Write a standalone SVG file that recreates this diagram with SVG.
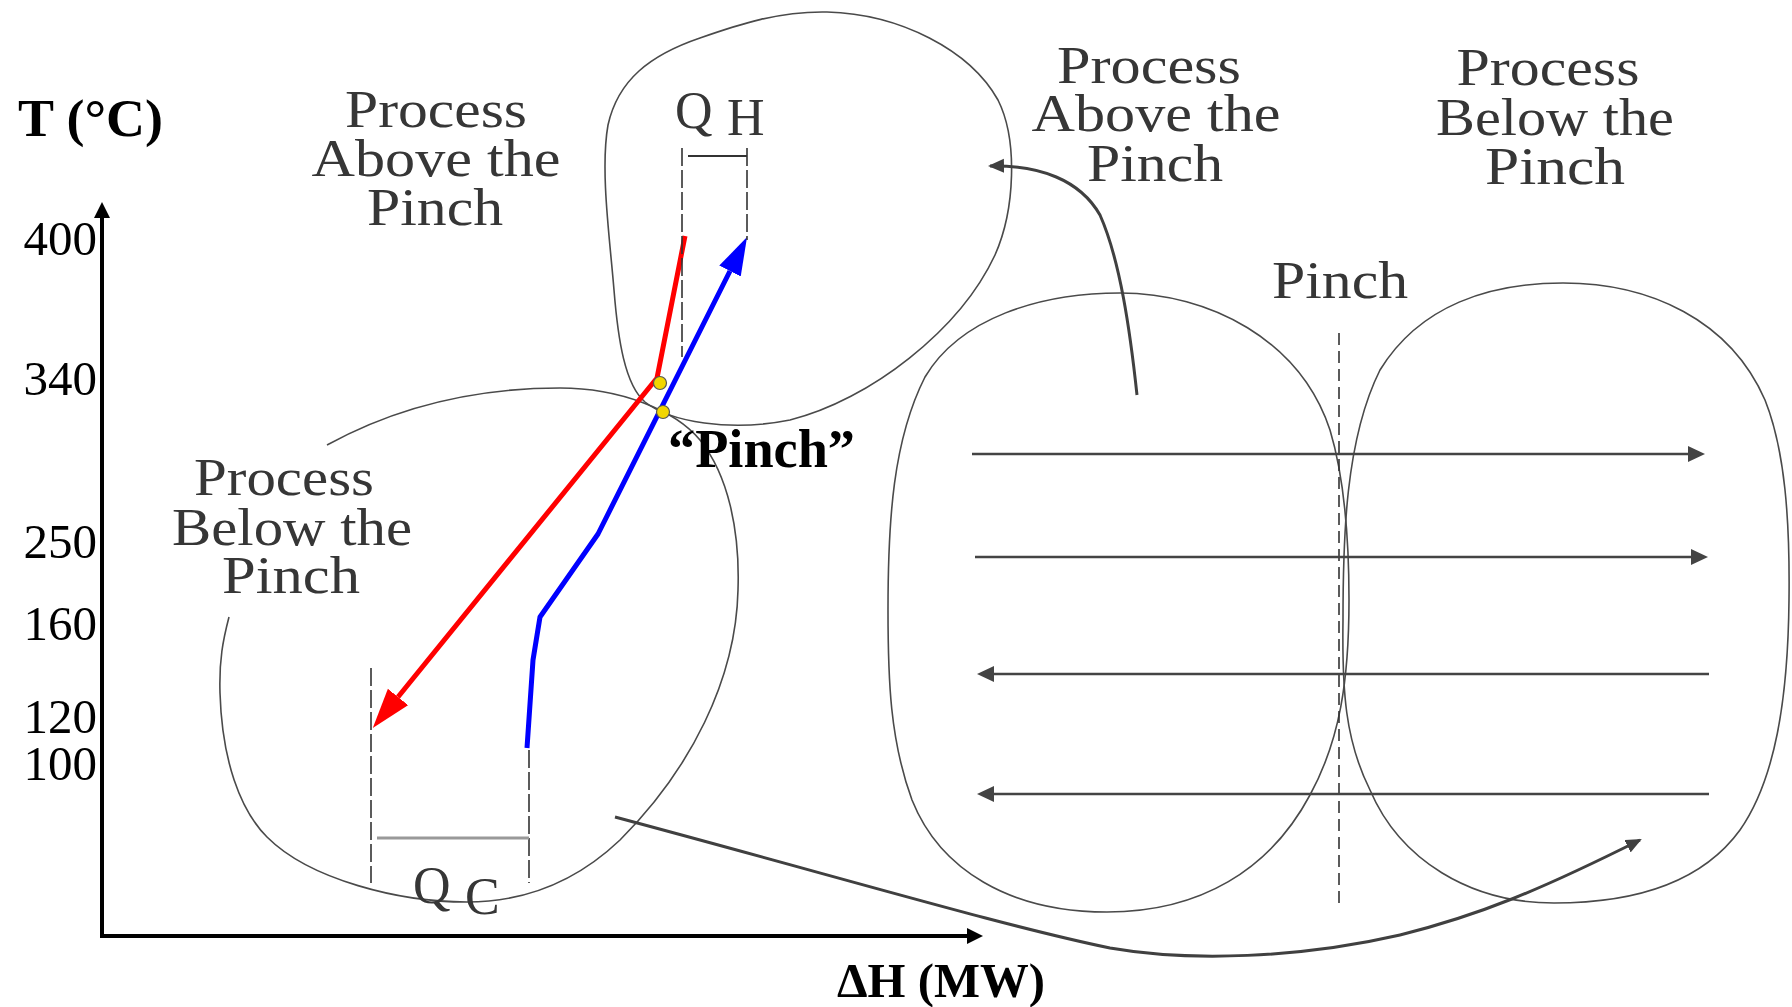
<svg xmlns="http://www.w3.org/2000/svg" width="1792" height="1007" viewBox="0 0 1792 1007">
<style>
.blob{fill:none;stroke:#4a4a4a;stroke-width:1.6}
.lbl{font-family:"Liberation Serif","Times New Roman",serif;font-size:52px;fill:#363636}
.num{font-family:"Liberation Serif","Times New Roman",serif;font-size:49px;fill:#000}
.bold{font-family:"Liberation Serif","Times New Roman",serif;font-weight:bold;fill:#000}
.dash{fill:none;stroke:#333;stroke-width:1.6;stroke-dasharray:18 4}
.flow{fill:none;stroke:#444;stroke-width:2.6}
.curve{fill:none;stroke:#404040;stroke-width:3}
.axis{fill:none;stroke:#000;stroke-width:4}
</style>
<defs>
<marker id="axArr" markerUnits="userSpaceOnUse" markerWidth="18" markerHeight="18" refX="0" refY="8" orient="auto"><path d="M0,0 L16,8 L0,16 Z" fill="#000"/></marker>
<marker id="grArr" markerUnits="userSpaceOnUse" markerWidth="18" markerHeight="18" refX="0" refY="8" orient="auto"><path d="M0,0 L17,8 L0,16 Z" fill="#444"/></marker>
<marker id="cvArr" markerUnits="userSpaceOnUse" markerWidth="18" markerHeight="16" refX="14" refY="7" orient="auto"><path d="M0,0 L16,7 L0,14 Z" fill="#404040"/></marker>
<marker id="redArr" markerUnits="userSpaceOnUse" markerWidth="42" markerHeight="28" refX="0" refY="13" orient="auto"><path d="M0,0 L40,13 L0,26 Z" fill="#ff0000"/></marker>
<marker id="blueArr" markerUnits="userSpaceOnUse" markerWidth="40" markerHeight="26" refX="0" refY="12" orient="auto"><path d="M0,0 L38,12 L0,24 Z" fill="#0000ff"/></marker>
</defs>
<rect width="1792" height="1007" fill="#fff"/>

<g id="axes">
<path class="axis" d="M102,938 V218" marker-end="url(#axArr)"/>
<path class="axis" d="M100,936 H967" marker-end="url(#axArr)"/>
<text class="bold" x="18" y="136" font-size="53" textLength="145" lengthAdjust="spacingAndGlyphs">T (°C)</text>
<text class="bold" x="837" y="997" font-size="49" textLength="208" lengthAdjust="spacingAndGlyphs">ΔH (MW)</text>
<g text-anchor="end">
<text class="num" x="97" y="255">400</text>
<text class="num" x="97" y="395">340</text>
<text class="num" x="97" y="558">250</text>
<text class="num" x="97" y="640">160</text>
<text class="num" x="97" y="733">120</text>
<text class="num" x="97" y="780">100</text>
</g>
</g>

<g id="region-above-left">
<path class="blob" d="M827,12 C900,14 970,50 998,100 C1018,140 1015,210 995,255 C960,330 870,400 790,420 C730,432 670,422 645,402 C625,385 618,340 614,290 C610,240 600,170 608,125 C618,80 650,55 700,38 C740,24 780,11 827,12 Z"/>
</g>
<g id="label-above-left" class="lbl" text-anchor="middle">
<text x="436" y="127" textLength="182" lengthAdjust="spacingAndGlyphs">Process</text>
<text x="436" y="176" textLength="249" lengthAdjust="spacingAndGlyphs">Above the</text>
<text x="435" y="225" textLength="136" lengthAdjust="spacingAndGlyphs">Pinch</text>
</g>

<g id="region-below-left">
<path class="blob" d="M327,445 C400,405 480,388 560,388 C620,388 675,410 700,440 C728,475 740,530 738,590 C736,680 690,770 620,840 C580,878 530,902 467,902 C400,902 310,880 267,837 C240,810 222,760 220,693 C219,660 223,640 229,617"/>
</g>
<g id="label-below-left" class="lbl" text-anchor="middle">
<text x="284" y="495" textLength="180" lengthAdjust="spacingAndGlyphs">Process</text>
<text x="292" y="545" textLength="240" lengthAdjust="spacingAndGlyphs">Below the</text>
<text x="291" y="593" textLength="138" lengthAdjust="spacingAndGlyphs">Pinch</text>
</g>

<g id="composite-curves">
<path d="M685,236 L657,378 L398,697" fill="none" stroke="#ff0000" stroke-width="5" stroke-linejoin="round" marker-end="url(#redArr)"/>
<path d="M527,748 L533,660 L540,617 L598,534 L730,271" fill="none" stroke="#0000ff" stroke-width="5" stroke-linejoin="round" marker-end="url(#blueArr)"/>
<circle cx="660" cy="383" r="6.5" fill="#f2d600" stroke="#555" stroke-width="1.2"/>
<circle cx="663" cy="412" r="6.5" fill="#f2d600" stroke="#555" stroke-width="1.2"/>
<text class="bold" x="668" y="467" font-size="54" textLength="187" lengthAdjust="spacingAndGlyphs">“Pinch”</text>
</g>

<g id="qh">
<path class="dash" d="M682,148 V357"/>
<path class="dash" d="M747,148 V240"/>
<path d="M688,156 H747" stroke="#333" stroke-width="2" fill="none"/>
<text class="lbl" x="675" y="128" font-size="55">Q</text>
<text class="lbl" x="727" y="135" font-size="36">H</text>
</g>

<g id="qc">
<path class="dash" d="M371,668 V883"/>
<path class="dash" d="M529,750 V883"/>
<path d="M377,838 H529" stroke="#999" stroke-width="3" fill="none"/>
<text class="lbl" x="413" y="903" font-size="55">Q</text>
<text class="lbl" x="465" y="914" font-size="36">C</text>
</g>

<g id="region-above-right">
<path class="blob" d="M1120,293 C1210,293 1300,340 1330,430 C1345,480 1349,540 1349,600 C1349,680 1340,740 1310,795 C1270,870 1200,912 1107,912 C1010,912 940,870 912,800 C890,740 888,680 888,610 C888,520 893,440 925,377 C960,318 1040,293 1120,293 Z"/>
</g>
<g id="region-below-right">
<path class="blob" d="M1563,283 C1650,283 1730,320 1765,400 C1785,450 1790,520 1789,600 C1788,700 1775,780 1740,830 C1700,885 1630,903 1554,903 C1470,903 1400,860 1370,790 C1345,740 1342,690 1343,620 C1343,540 1345,440 1380,370 C1420,305 1490,283 1563,283 Z"/>
</g>
<g id="pinch-line">
<path d="M1339,333 V905" fill="none" stroke="#333" stroke-width="1.6" stroke-dasharray="12 6"/>
<text class="lbl" x="1340" y="298" text-anchor="middle" textLength="136" lengthAdjust="spacingAndGlyphs">Pinch</text>
</g>
<g id="label-above-right" class="lbl" text-anchor="middle">
<text x="1149" y="83" textLength="184" lengthAdjust="spacingAndGlyphs">Process</text>
<text x="1156" y="131" textLength="249" lengthAdjust="spacingAndGlyphs">Above the</text>
<text x="1155" y="181" textLength="136" lengthAdjust="spacingAndGlyphs">Pinch</text>
</g>
<g id="label-below-right" class="lbl" text-anchor="middle">
<text x="1548" y="85" textLength="183" lengthAdjust="spacingAndGlyphs">Process</text>
<text x="1555" y="135" textLength="238" lengthAdjust="spacingAndGlyphs">Below the</text>
<text x="1555" y="184" textLength="140" lengthAdjust="spacingAndGlyphs">Pinch</text>
</g>

<g id="connectors">
<path class="flow" d="M972,454 H1688" marker-end="url(#grArr)"/>
<path class="flow" d="M975,557 H1691" marker-end="url(#grArr)"/>
<path class="flow" d="M1709,674 H994" marker-end="url(#grArr)"/>
<path class="flow" d="M1709,794 H994" marker-end="url(#grArr)"/>
<path class="curve" d="M1137,395 C1130,330 1120,260 1100,215 C1080,180 1040,165 990,166" marker-end="url(#cvArr)"/>
<path class="curve" d="M615,817 C850,880 1000,925 1110,948 C1190,962 1300,958 1400,935 C1480,915 1540,890 1640,840" marker-end="url(#cvArr)"/>
</g>
</svg>
